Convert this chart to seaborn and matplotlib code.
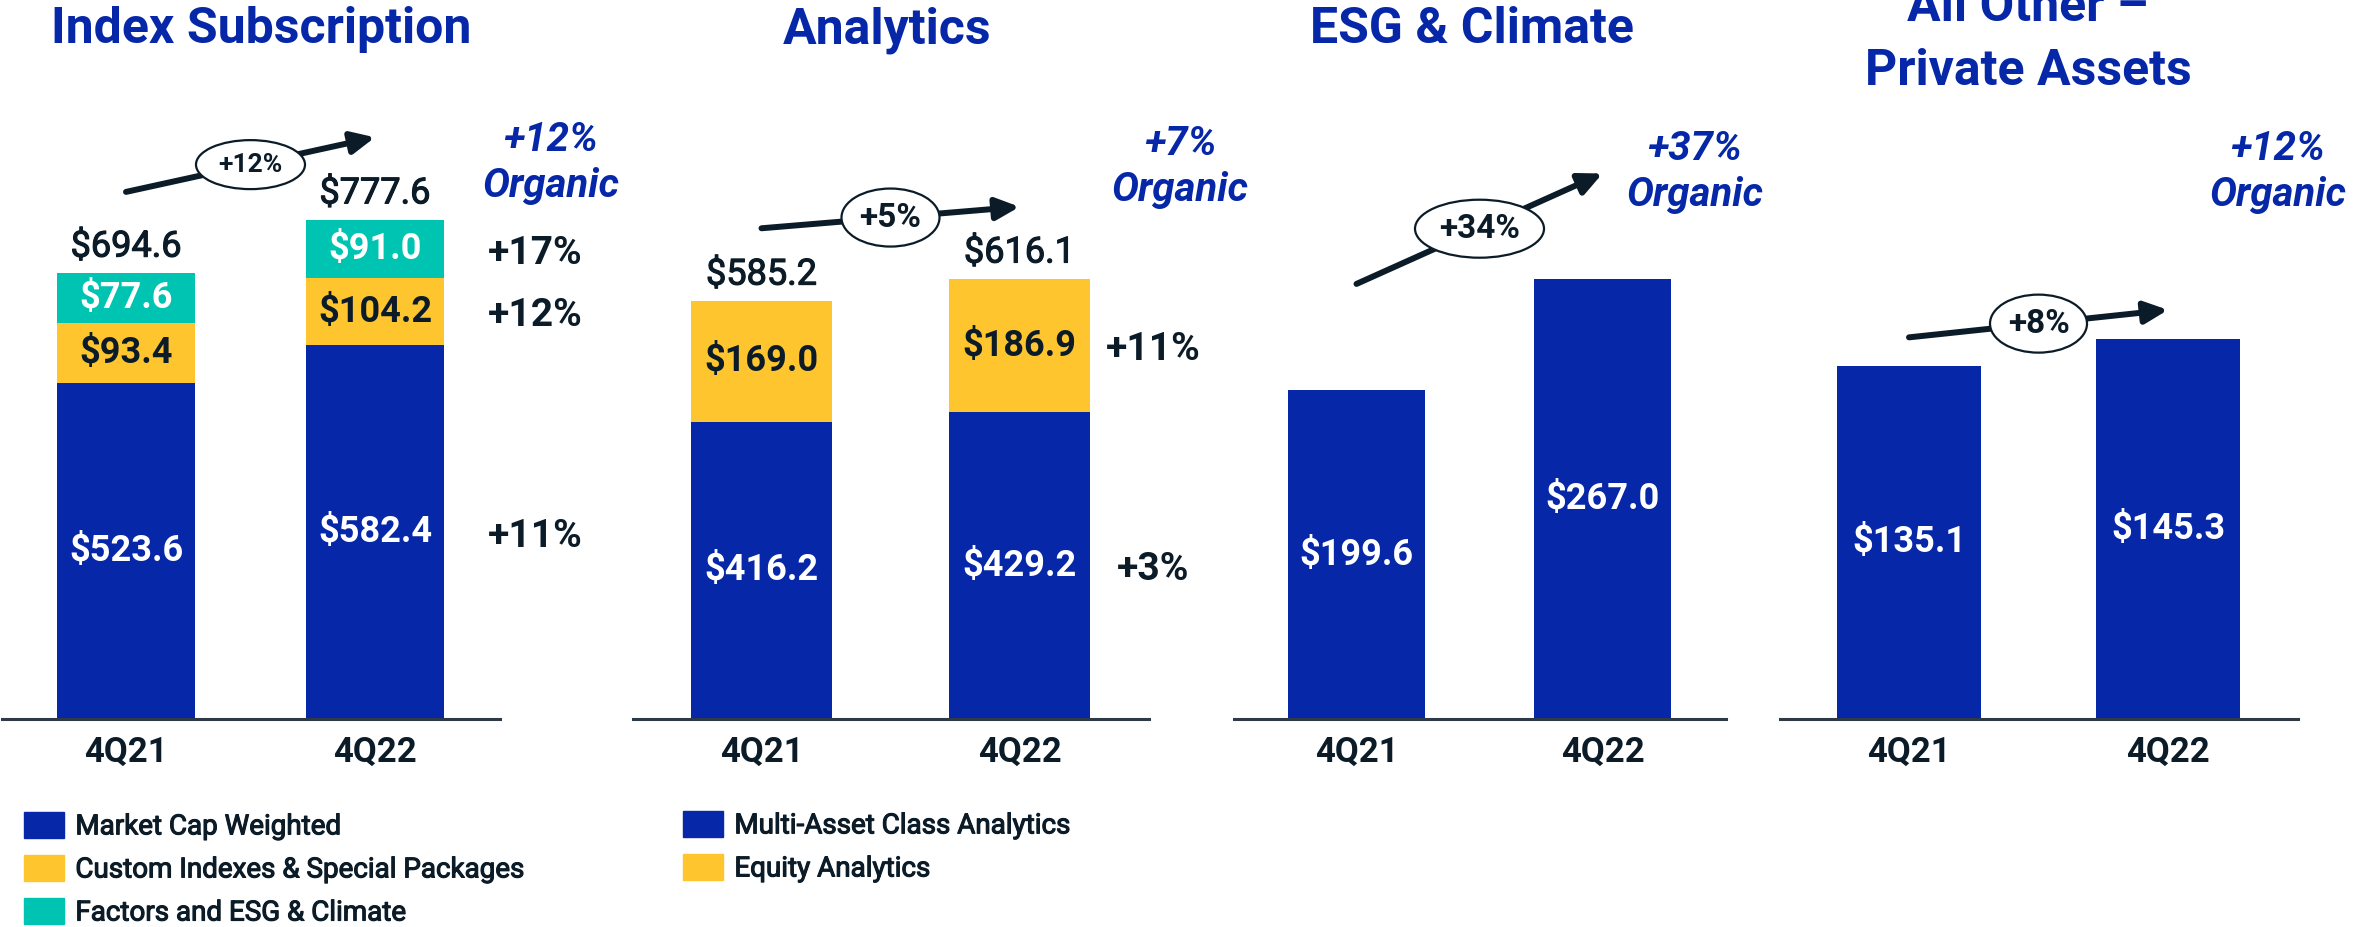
import matplotlib
matplotlib.use("Agg")
import matplotlib.pyplot as plt
import matplotlib.patheffects as pe
import seaborn as sns
import numpy as np
from matplotlib.patches import Ellipse, Patch

# --- Cores ---
AZUL = "#0527A8"
AMARELO = "#FFC52E"
VERDE = "#00C4B2"
ESCURO = "#0B1C28"
LINHA = "#2E3B46"

TRIMESTRES = ["4Q21", "4Q22"]

# --- Dados (US$ milhões) ---
idx_market_cap = [523.6, 582.4]
idx_custom = [93.4, 104.2]
idx_factors = [77.6, 91.0]
idx_cresc_segmentos = ["+11%", "+12%", "+17%"]

ana_multi_asset = [416.2, 429.2]
ana_equity = [169.0, 186.9]
ana_cresc_segmentos = ["+3%", "+11%"]

esg_clima = [199.6, 267.0]
private_assets = [135.1, 145.3]

titulos = ["Index Subscription", "Analytics", "ESG & Climate", "All Other –\nPrivate Assets"]
cresc_total = ["+12%", "+5%", "+34%", "+8%"]
cresc_organico = ["+12%", "+7%", "+37%", "+12%"]

legenda_index = ["Market Cap Weighted", "Custom Indexes & Special Packages", "Factors and ESG & Climate"]
legenda_analytics = ["Multi-Asset Class Analytics", "Equity Analytics"]

# --- Layout em pixels da figura (origem no canto superior esquerdo) ---
W, H = 2353, 927
BASE, TOPO = 719, 60

# Roboto sem peso "medium" instalado: engrossa o regular com um contorno fino
MEDIO = [pe.withStroke(linewidth=0.8, foreground=ESCURO)]

paineis = [
    dict(camadas=[idx_market_cap, idx_custom, idx_factors], cores=[AZUL, AMARELO, VERDE],
         claro=[True, False, True], segs=idx_cresc_segmentos, x_seg=1.643,
         esq=1.5, passo=249, escala=0.642, barra=138,
         seta=(821, 906), elipse=(109, 49), fs_elipse=19, organico=(551, 163),
         titulo=(261, 43)),
    dict(camadas=[ana_multi_asset, ana_equity], cores=[AZUL, AMARELO],
         claro=[True, False], segs=ana_cresc_segmentos, x_seg=1.517,
         esq=632.5, passo=258, escala=0.7143, barra=141,
         seta=(687, 717), elipse=(98, 58), fs_elipse=24, organico=(1180, 167),
         titulo=(887, 43)),
    dict(camadas=[esg_clima], cores=[AZUL], claro=[True], segs=None, x_seg=None,
         esq=1233.5, passo=246, escala=1.648, barra=137,
         seta=(264, 331), elipse=(129, 58), fs_elipse=24, organico=(1695, 172),
         titulo=(1472, 43)),
    dict(camadas=[private_assets], cores=[AZUL], claro=[True], segs=None, x_seg=None,
         esq=1779.5, passo=259, escala=2.614, barra=144,
         seta=(146, 156.5), elipse=(97, 58), fs_elipse=24, organico=(2278, 172),
         titulo=(2028, 85)),
]


def desenha_painel(fig, p, titulo, total_txt, organico_txt):
    ax = fig.add_axes([p["esq"] / W, 1 - BASE / H, 2 * p["passo"] / W, (BASE - TOPO) / H])
    ax.set_facecolor("none")

    camadas = np.array(p["camadas"])
    acumulado = np.cumsum(camadas, axis=0)
    largura = p["barra"] / p["passo"]

    # barras empilhadas: desenha o acumulado de cima para baixo
    for nivel in range(len(camadas) - 1, -1, -1):
        sns.barplot(x=TRIMESTRES, y=acumulado[nivel], color=p["cores"][nivel], width=largura,
                    saturation=1, errorbar=None, linewidth=0, ax=ax)

    ax.set_xlim(-0.5, 1.5)
    ax.set_ylim(0, (BASE - TOPO) / p["escala"])
    ax.set_xlabel("")
    ax.set_ylabel("")
    ax.set_yticks([])
    sns.despine(ax=ax, left=True)
    ax.spines["bottom"].set_color(LINHA)
    ax.spines["bottom"].set_linewidth(2.2)
    ax.tick_params(axis="x", length=0, pad=12, labelsize=25, labelcolor=ESCURO)
    for lab in ax.get_xticklabels():
        lab.set_fontweight("bold")

    # valores dentro dos segmentos
    for nivel, camada in enumerate(camadas):
        for i, v in enumerate(camada):
            centro = acumulado[nivel][i] - v / 2
            ax.text(i, centro, f"${v:.1f}", ha="center", va="center", fontsize=26,
                    fontweight="bold", color="white" if p["claro"][nivel] else ESCURO)

    # totais acima das barras empilhadas
    if len(camadas) > 1:
        for i, total in enumerate(acumulado[-1]):
            ax.annotate(f"${total:.1f}", (i, total), xytext=(0, 19), textcoords="offset points",
                        ha="center", va="center", fontsize=26, color=ESCURO,
                        path_effects=MEDIO)

    # crescimento por segmento (à direita do 4Q22)
    if p["segs"]:
        for nivel, txt in enumerate(p["segs"]):
            centro = acumulado[nivel][1] - camadas[nivel][1] / 2
            ax.annotate(txt, (p["x_seg"], centro), xytext=(0, -3), textcoords="offset points",
                        ha="center", va="center", fontsize=28, fontweight="bold",
                        color=ESCURO, annotation_clip=False)

    # seta de crescimento total com elipse
    y0, y1 = p["seta"]
    ax.annotate("", xy=(1, y1), xytext=(0, y0),
                arrowprops=dict(arrowstyle="-|>,head_length=0.7,head_width=0.33", lw=4.3,
                                color=ESCURO, mutation_scale=20, shrinkA=0, shrinkB=0))
    yc = (y0 + y1) / 2
    ew, eh = p["elipse"]
    ax.add_patch(Ellipse((0.5, yc), ew / p["passo"], eh / p["escala"], facecolor="white",
                         edgecolor=ESCURO, lw=1.6, zorder=5, clip_on=False))
    ax.text(0.5, yc, total_txt, ha="center", va="center", fontsize=p["fs_elipse"],
            fontweight="bold", color=ESCURO, zorder=6)

    # crescimento orgânico
    ox, oy = p["organico"]
    fig.text(ox / W, 1 - oy / H, f"{organico_txt}\nOrganic", ha="center", va="center",
             fontsize=29, fontweight="bold", fontstyle="italic", color=AZUL, linespacing=1.25)

    # título do painel (va baseline alinha a última linha)
    tx, ty = p["titulo"]
    fig.text(tx / W, 1 - ty / H, titulo, ha="center", va="baseline", fontsize=36,
             fontweight="bold", color=AZUL, linespacing=1.45)
    return ax


sns.set_theme(style="white")
plt.rcParams["font.family"] = ["Roboto", "DejaVu Sans"]

fig = plt.figure(figsize=(W / 100 + 1e-4, H / 100 + 1e-4), dpi=100)
fig.patch.set_facecolor("white")

for p, titulo, tt, org in zip(paineis, titulos, cresc_total, cresc_organico):
    desenha_painel(fig, p, titulo, tt, org)

fonte_leg = {"family": ["Roboto", "DejaVu Sans"], "size": 20}
estilo_leg = dict(loc="upper left", frameon=False, prop=fonte_leg, labelcolor=ESCURO,
                  handlelength=1.45, handleheight=1.05, handletextpad=0.4, labelspacing=0.53,
                  borderpad=0, borderaxespad=0)

leg1 = fig.legend([Patch(color=c) for c in [AZUL, AMARELO, VERDE]], legenda_index,
                  bbox_to_anchor=(24 / W, 1 - 812 / H), **estilo_leg)
leg2 = fig.legend([Patch(color=c) for c in [AZUL, AMARELO]], legenda_analytics,
                  bbox_to_anchor=(683 / W, 1 - 811 / H), **estilo_leg)
for leg in (leg1, leg2):
    for t in leg.get_texts():
        t.set_path_effects(MEDIO)

fig.savefig("out.png", dpi=100, facecolor="white")
